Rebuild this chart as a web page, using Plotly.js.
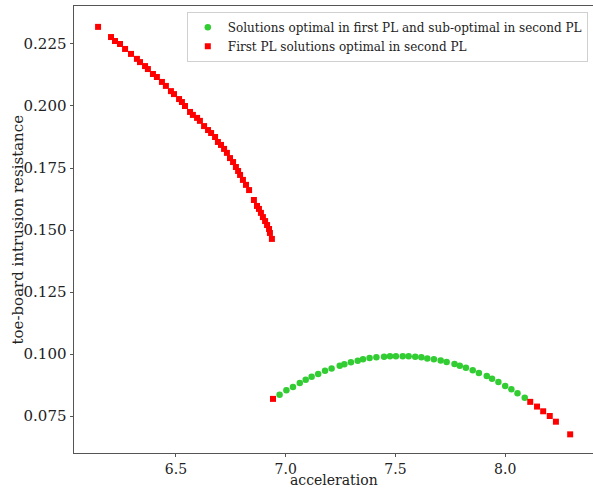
<!DOCTYPE html>
<html>
<head>
<meta charset="utf-8">
<script src="https://cdn.plot.ly/plotly-3.0.1.min.js"></script>
<style>html,body{margin:0;padding:0;background:#fff;}#chart{width:593px;height:489px;}</style>
</head>
<body>
<div id="chart"></div>
<script>
// Green: solutions optimal in first PL and sub-optimal in second PL
const greenX = [6.972, 7.003, 7.033, 7.064, 7.091, 7.118, 7.148, 7.179, 7.209, 7.246, 7.267, 7.297, 7.328, 7.352, 7.382, 7.413, 7.448, 7.475, 7.502, 7.533, 7.560, 7.590, 7.618, 7.645, 7.675, 7.706, 7.733, 7.769, 7.793, 7.821, 7.852, 7.880, 7.916, 7.940, 7.969, 8.000, 8.028, 8.056, 8.089];
const greenY = [0.0836, 0.0854, 0.0867, 0.0883, 0.0896, 0.0908, 0.0919, 0.0932, 0.0942, 0.0953, 0.0959, 0.0967, 0.0973, 0.0979, 0.0984, 0.0987, 0.0989, 0.0991, 0.0991, 0.0991, 0.0991, 0.0989, 0.0987, 0.0982, 0.0979, 0.0974, 0.0968, 0.0960, 0.0953, 0.0945, 0.0934, 0.0923, 0.0911, 0.0900, 0.0887, 0.0871, 0.0858, 0.0842, 0.0824];

// Red: first PL solutions optimal in second PL
const redX = [6.145, 6.204, 6.222, 6.245, 6.268, 6.295, 6.322, 6.336, 6.359, 6.372, 6.395, 6.413, 6.436, 6.454, 6.477, 6.491, 6.514, 6.527, 6.541, 6.564, 6.577, 6.596, 6.609, 6.628, 6.646, 6.660, 6.678, 6.691, 6.705, 6.719, 6.732, 6.746, 6.760, 6.773, 6.783, 6.792, 6.805, 6.819, 6.833, 6.855, 6.869, 6.878, 6.887, 6.896, 6.906, 6.915, 6.924, 6.928, 6.937,
              6.942, 8.114, 8.145, 8.173, 8.203, 8.231, 8.296];
const redY = [0.2319, 0.2278, 0.2262, 0.2250, 0.2230, 0.2210, 0.2190, 0.2177, 0.2161, 0.2149, 0.2129, 0.2117, 0.2097, 0.2081, 0.2060, 0.2048, 0.2028, 0.2016, 0.2000, 0.1976, 0.1964, 0.1952, 0.1940, 0.1919, 0.1903, 0.1891, 0.1875, 0.1855, 0.1843, 0.1827, 0.1811, 0.1790, 0.1774, 0.1754, 0.1738, 0.1722, 0.1702, 0.1682, 0.1661, 0.1621, 0.1597, 0.1585, 0.1569, 0.1552, 0.1536, 0.1520, 0.1504, 0.1488, 0.1464,
              0.0819, 0.0807, 0.0788, 0.0769, 0.0750, 0.0727, 0.0676];

const xTicks = [6.5, 7.0, 7.5, 8.0];
const xTickLabels = ["6.5", "7.0", "7.5", "8.0"];
const yTicks = [0.075, 0.100, 0.125, 0.150, 0.175, 0.200, 0.225];
const yTickLabels = ["0.075", "0.100", "0.125", "0.150", "0.175", "0.200", "0.225"];
const xTitle = "acceleration";
const yTitle = "toe-board intrusion resistance";

const font = "DejaVu Serif, serif";

const traces = [
  {
    x: greenX, y: greenY, type: "scatter", mode: "markers",
    name: "Solutions optimal in first PL and sub-optimal in second PL",
    marker: {color: "#32cd32", size: 6.5, symbol: "circle"}
  },
  {
    x: redX, y: redY, type: "scatter", mode: "markers",
    name: "First PL solutions optimal in second PL",
    marker: {color: "#ff0000", size: 6, symbol: "square"}
  }
];

const layout = {
  width: 593, height: 489,
  margin: {l: 74, r: 0, t: 6, b: 36},
  paper_bgcolor: "#fff", plot_bgcolor: "#fff",
  font: {family: font, color: "#222", size: 15},
  showlegend: true,
  legend: {
    x: 0.99, xanchor: "right", y: 0.987, yanchor: "top",
    bgcolor: "rgba(255,255,255,0.8)", bordercolor: "#d0d0d0", borderwidth: 1,
    font: {family: font, size: 12, color: "#222"},
    itemsizing: "trace", tracegroupgap: 0, itemwidth: 30
  },
  xaxis: {
    range: [6.0353, 8.4], tickmode: "array", tickvals: xTicks, ticktext: xTickLabels,
    showgrid: false, zeroline: false, showline: true, linecolor: "#555", linewidth: 1, mirror: true,
    ticks: "outside", ticklen: 3, tickcolor: "#555",
    tickfont: {family: font, size: 14, color: "#222"}
  },
  yaxis: {
    range: [0.06008, 0.24032], tickmode: "array", tickvals: yTicks, ticktext: yTickLabels,
    showgrid: false, zeroline: false, showline: true, linecolor: "#555", linewidth: 1, mirror: false,
    ticks: "outside", ticklen: 3.5, tickcolor: "#555",
    tickfont: {family: font, size: 15, color: "#222"}
  },
  annotations: [
    {text: xTitle, xref: "paper", yref: "paper", x: 0.5, y: -36 / 447, xanchor: "center", yanchor: "bottom",
     borderpad: 0, showarrow: false, font: {family: font, size: 14, color: "#222"}},
    {text: yTitle, xref: "paper", yref: "paper", x: 0, y: 0.5, xshift: -57, xanchor: "center", yanchor: "middle",
     textangle: -90, showarrow: false, font: {family: font, size: 15, color: "#222"}}
  ]
};

Plotly.newPlot("chart", traces, layout, {displayModeBar: false, staticPlot: true});
</script>
</body>
</html>
